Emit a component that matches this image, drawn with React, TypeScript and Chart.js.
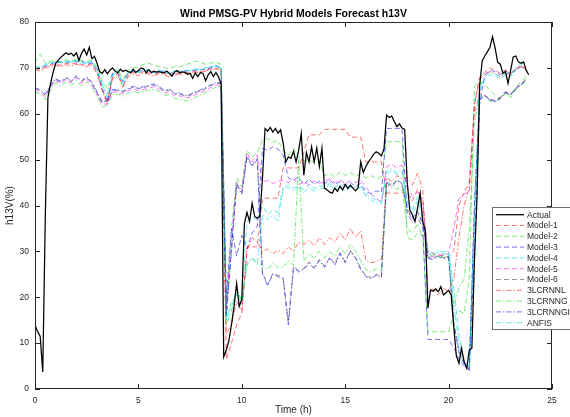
import React, { useEffect, useRef } from 'react';
import { Chart, registerables } from 'chart.js';

Chart.register(...registerables);

// Sampling intervals (hours) of the measured series and of the model forecasts
const ACTUAL_STEP_H = 0.125;
const MODEL_STEP_H = 0.25;

const X_TICKS = { min: 0, max: 25, step: 5 };
const Y_TICKS = { min: 0, max: 80, step: 10 };

const CHART_TITLE = 'Wind PMSG-PV Hybrid Models Forecast h13V';
const X_LABEL = 'Time (h)';
const Y_LABEL = 'h13V(%)';

// Measured h13V, one value every 7.5 min
const actual = [
  14, 12.5, 11.5, 3.7, 38, 63.5, 66.5, 69, 71, 71.7, 72.3, 72.8, 73.3, 72.9, 73.2, 72.6,
  73.3, 71.6, 73.2, 74.1, 72.8, 74.5, 72.0, 72.5, 71.0, 69.2, 68.8, 69.6, 68.7, 69.5, 70.0, 69.3,
  68.9, 69.7, 69.2, 69.5, 69.2, 68.9, 69.7, 69.0, 69.4, 70.0, 69.8, 68.9, 69.6, 69.0, 69.3, 69.1,
  69.2, 69.0, 68.9, 69.3, 68.8, 68.2, 69.1, 69.4, 68.9, 69.1, 69.0, 68.6, 68.8, 67.7, 68.9, 68.1,
  69.0, 68.8, 67.2, 68.5, 69.2, 68.1, 69.0, 68.0, 66.5, 7.0, 8.5, 10.5, 14.0, 18.0, 23.0, 18.0,
  19.5, 36.0, 38.5, 36.5, 40.5, 37.6, 37.2, 37.6, 46.0, 56.8, 56.2, 57.0, 56.0, 56.8, 55.8, 56.5,
  53.6, 49.5, 50.6, 50.3, 51.8, 49.5, 52.0, 55.7, 46.6, 51.5, 49.5, 52.8, 49.5, 52.5, 48.5, 52.5,
  43.8, 43.4, 42.9, 42.7, 43.8, 43.1, 44.2, 43.4, 44.6, 43.7, 44.4, 43.8, 43.2, 43.8, 49.5, 47.2,
  48.5, 49.5, 50.3, 51.2, 51.7, 51.4, 50.8, 52.3, 59.7, 59.2, 59.5, 58.3, 57.2, 57.8, 56.9, 56.6,
  45.0, 39.0, 38.0, 36.5, 39.5, 42.7, 36.5, 34.5, 17.6, 21.6, 21.3, 21.8, 21.2, 22.3, 20.5, 21.0,
  21.5, 20.5, 13.5, 7.2, 5.6, 8.9, 6.0, 4.5, 8.5, 8.9, 28.0, 42.0, 66.0, 71.5, 72.6, 73.5,
  74.5, 76.8, 74.3, 71.2, 70.8, 68.8, 69.2, 66.6, 69.5, 72.4, 72.6, 71.3, 71.0, 71.3, 69.5, 68.5,
];

// Forecasts, one value every 15 min
const model1 = [
  70.0, 69.5, 70.2, 70.6, 70.9, 70.5, 71.0, 70.8, 71.1, 70.7, 70.6, 70.9, 69.0, 65.2, 63.0, 68.0,
  68.8, 66.0, 68.5, 69.0, 68.8, 69.2, 68.9, 68.5, 69.0, 68.8, 68.3, 68.9, 68.7, 69.1, 68.9, 69.3,
  69.1, 69.5, 69.8, 70.0, 69.5,
  6.5, 10.0, 14.0, 16.5, 31.0, 31.0, 31.0,
  41.6, 41.6, 41.6, 41.6,
  48.2, 48.2, 48.2, 48.2, 51.5, 55.4, 55.4, 55.4,
  56.6, 56.6, 56.6, 56.6, 56.6, 54.9, 54.9, 54.9,
  49.5, 49.5, 49.5, 49.5,
  42.7, 42.7, 42.7, 42.7,
  43.0, 41.0, 43.5, 40.0,
  30.0, 29.5, 29.0, 29.2, 28.8,
  30.0, 40.0, 43.0, 45.0,
  62.0, 68.0, 69.0, 70.0, 69.5, 68.8, 69.6, 68.9, 69.8, 70.4, 69.8,
];

const model2 = [
  71.2, 73.0, 71.0, 71.5, 71.6, 71.3, 71.8, 71.5, 71.9, 71.6, 71.4, 71.6, 70.2, 67.0, 65.5, 69.0,
  69.8, 67.5, 69.6, 70.0, 70.2, 70.8, 71.0, 70.6, 70.3, 70.0, 69.8, 70.3, 70.2, 70.7, 71.0, 71.5,
  71.2, 70.8, 71.1, 71.2, 70.8,
  18.0, 35.0, 46.0, 44.0, 52.0, 50.5, 51.5,
  54.3, 54.6, 53.8, 54.2,
  52.0, 51.0, 52.5, 50.5, 49.7, 49.7, 49.5, 49.8,
  46.5, 47.0, 46.2, 47.3, 46.6, 47.1, 46.4, 46.9,
  46.0, 46.5, 45.8, 46.2,
  53.9, 53.9, 53.9, 53.9,
  33.0, 32.5, 34.0, 33.5,
  12.5, 12.5, 12.5, 12.5, 12.5,
  16.0, 17.0, 16.5, 24.0,
  66.0, 67.0, 66.5, 65.0, 64.0, 63.2, 64.5, 63.5, 65.8, 67.0, 68.0,
];

const model3 = [
  69.8, 70.1, 70.4, 70.8, 71.4, 71.2, 71.2, 71.4, 71.3, 71.5, 70.8, 71.1, 69.8, 65.5, 62.5, 68.8,
  69.0, 67.0, 69.1, 69.2, 69.3, 69.4, 69.5, 69.0, 69.2, 69.3, 68.8, 69.0, 69.3, 69.3, 69.4, 69.5,
  69.6, 69.7, 70.0, 70.5, 70.0,
  20.0, 35.0, 29.0, 33.5, 30.5, 34.0, 35.5,
  52.5, 52.0, 52.8, 52.3,
  51.0, 46.0, 45.5, 46.2, 44.5, 45.8, 44.6, 45.3,
  44.8, 45.5, 44.6, 45.2, 44.4, 45.0, 44.2, 44.8,
  43.0, 42.6, 43.2, 42.8,
  56.8, 56.8, 56.8, 56.8,
  38.0, 36.5, 37.5, 35.0,
  10.8, 10.8, 10.8, 10.8, 10.8,
  9.0, 6.5, 5.0, 4.5,
  30.0, 62.0, 68.5, 69.5, 69.2, 68.5, 69.3, 68.7, 69.5, 70.2, 70.0,
];

const model4 = [
  70.4, 70.0, 70.8, 71.2, 71.0, 71.3, 71.2, 71.3, 71.6, 71.0, 71.2, 71.4, 69.3, 66.5, 63.5, 68.2,
  69.4, 66.2, 68.8, 69.6, 68.9, 69.7, 69.2, 68.9, 69.6, 69.0, 68.7, 69.4, 68.9, 69.6, 69.3, 69.8,
  69.5, 70.0, 70.3, 70.4, 69.8,
  16.0, 18.0, 21.0, 19.0, 36.5, 37.5, 36.8,
  40.0, 38.0, 39.0, 38.5,
  44.0, 44.5, 43.8, 44.2, 43.5, 44.5, 43.7, 44.3,
  44.2, 44.8, 44.0, 44.6, 43.8, 44.5, 43.9, 44.4,
  42.5, 41.8, 41.2, 40.8,
  47.0, 47.5, 46.8, 47.2,
  40.0, 38.0, 41.0, 37.0,
  29.5, 29.2, 29.8, 29.4, 29.6,
  22.0, 12.0, 6.0, 5.0,
  35.0, 65.0, 67.5, 68.5, 68.2, 67.6, 68.5, 68.0, 69.5, 70.8, 71.2,
];

const model5 = [
  65.3, 64.6, 63.6, 65.8, 67.2, 66.5, 67.4, 66.7, 67.8, 66.6, 67.5, 66.3, 64.2, 62.0, 62.2, 64.7,
  64.8, 64.3, 65.0, 65.4, 65.1, 65.3, 65.6, 65.9, 65.4, 64.5, 64.8, 63.9, 63.9, 63.4, 63.6, 64.2,
  64.6, 65.1, 65.7, 66.2, 66.3,
  17.0, 33.0, 45.0, 43.5, 51.5, 49.5, 51.0,
  45.0, 45.5, 44.8, 45.3,
  45.5, 45.0, 45.8, 44.6, 45.2, 44.5, 45.4, 44.8,
  45.2, 45.8, 45.0, 45.6, 44.8, 45.4, 45.0, 45.5,
  44.0, 42.5, 41.5, 40.8,
  48.5, 49.0, 48.2, 48.8,
  44.0, 42.0, 43.0, 41.0,
  29.0, 28.8, 29.3, 29.1, 29.5,
  35.0, 41.5, 42.5, 43.0,
  60.0, 64.5, 64.0, 63.2, 62.8, 63.5, 64.8, 64.2, 65.5, 66.5, 67.5,
];

const model6 = [
  65.6, 65.0, 64.0, 66.1, 67.5, 66.9, 67.7, 67.0, 68.1, 67.0, 67.9, 66.7, 64.6, 62.4, 62.7, 65.1,
  65.1, 64.7, 65.3, 65.8, 65.5, 65.7, 66.0, 66.3, 65.8, 64.9, 65.2, 64.3, 64.3, 63.8, 64.0, 64.6,
  65.0, 65.5, 66.1, 66.6, 66.6,
  16.2, 30.5, 44.8, 42.8, 50.8, 48.8, 50.3,
  25.3, 22.8, 25.2, 24.8,
  24.3, 14.5, 26.7, 25.8, 26.3, 27.7, 26.5, 28.2,
  26.8, 28.7, 27.3, 29.7, 27.8, 30.2, 28.7, 26.3,
  24.7, 24.3, 25.0, 24.5,
  45.3, 44.3, 45.7, 44.8,
  39.3, 37.3, 38.8, 36.3,
  28.7, 28.4, 29.1, 28.6, 28.9,
  14.5, 8.4, 5.8, 4.3,
  40.5, 63.2, 64.0, 63.2, 62.8, 63.6, 64.8, 64.3, 65.6, 66.5, 67.5,
];

const lcrnnL = [
  69.6, 69.3, 70.0, 70.3, 70.5, 70.3, 70.7, 70.4, 70.8, 70.5, 70.3, 70.6, 68.8, 65.0, 62.0, 67.5,
  68.5, 65.8, 68.0, 68.7, 68.3, 68.9, 68.6, 68.2, 68.8, 68.5, 68.0, 68.7, 68.4, 68.9, 68.6, 69.1,
  68.8, 69.3, 69.6, 69.8, 69.2,
  12.0, 14.0, 19.0, 17.0, 30.0, 33.0, 32.0,
  30.0, 30.5, 29.5, 30.2,
  29.5, 31.0, 30.0, 32.0, 31.5, 32.5, 31.2, 33.0,
  31.5, 33.0, 32.0, 34.0, 32.5, 35.0, 33.0, 34.5,
  28.0, 27.5, 27.8, 28.2,
  46.0, 45.2, 46.5, 45.8,
  46.0, 44.5, 47.0, 43.5,
  21.0, 21.8, 20.5, 22.0, 21.2,
  24.0, 33.0, 40.0, 44.0,
  62.0, 67.5, 68.5, 69.2, 68.8, 68.0, 68.9, 68.4, 69.8, 70.5, 69.5,
];

const lcrnnG = [
  64.8, 64.2, 63.0, 65.2, 66.8, 66.0, 66.9, 66.1, 67.3, 66.0, 67.0, 65.8, 63.8, 61.5, 61.8, 64.2,
  64.3, 63.8, 64.5, 64.9, 64.6, 64.8, 65.1, 65.4, 64.9, 64.0, 64.2, 63.3, 63.2, 62.8, 63.0, 63.6,
  64.0, 64.6, 65.2, 65.8, 66.0,
  14.0, 17.0, 22.0, 19.0, 27.0, 28.5, 27.5,
  27.0, 26.0, 27.5, 26.5,
  26.5, 28.0, 27.0, 50.0, 28.0, 29.5, 28.5, 30.0,
  28.5, 30.0, 29.0, 31.0, 29.5, 31.5, 30.0, 28.0,
  26.0, 25.5, 26.2, 25.8,
  44.0, 44.8, 43.5, 44.2,
  35.0, 34.0, 36.0, 33.0,
  28.8, 29.2, 28.6, 29.0, 28.8,
  18.0, 22.0, 24.0, 35.0,
  58.0, 64.0, 63.5, 62.8, 62.5, 63.2, 64.5, 64.0, 65.2, 66.2, 67.2,
];

const lcrnnGI = [
  65.7, 65.2, 64.3, 66.3, 67.6, 67.1, 67.9, 67.2, 68.3, 67.2, 68.1, 66.9, 64.8, 62.6, 62.9, 65.3,
  65.2, 64.9, 65.5, 66.0, 65.6, 65.9, 66.2, 66.5, 66.0, 65.1, 65.4, 64.5, 64.5, 64.0, 64.2, 64.8,
  65.2, 65.7, 66.3, 66.8, 66.8,
  16.0, 30.0, 44.5, 42.5, 50.5, 48.5, 50.0,
  25.0, 22.5, 25.0, 24.5,
  24.0, 14.0, 26.5, 25.5, 26.0, 27.5, 26.2, 28.0,
  26.5, 28.5, 27.0, 29.5, 27.5, 30.0, 28.5, 26.0,
  24.5, 24.0, 24.8, 24.2,
  45.0, 44.0, 45.5, 44.6,
  39.0, 37.0, 38.5, 36.0,
  28.5, 28.2, 28.9, 28.4, 28.7,
  14.0, 8.0, 5.5, 4.0,
  40.0, 63.0, 63.8, 63.0, 62.6, 63.4, 64.6, 64.1, 65.4, 66.3, 67.3,
];

const anfis = [
  70.3, 70.0, 70.7, 71.1, 71.3, 71.1, 71.5, 71.2, 71.6, 71.3, 71.1, 71.4, 69.6, 66.2, 64.2, 68.6,
  69.3, 66.6, 69.0, 69.5, 69.1, 69.7, 69.4, 68.9, 69.5, 69.2, 68.7, 69.3, 69.1, 69.6, 69.3, 69.8,
  69.5, 70.0, 70.3, 70.4, 69.9,
  15.0, 19.0, 20.5, 18.5, 27.5, 28.5, 27.0,
  38.0, 37.0, 37.8, 36.5,
  43.5, 44.0, 43.2, 43.8, 42.8, 43.9, 43.1, 43.6,
  43.8, 44.4, 43.5, 44.1, 43.2, 43.9, 43.4, 44.0,
  42.0, 41.2, 40.6, 40.3,
  47.5, 48.0, 47.2, 47.8,
  41.0, 39.0, 42.0, 38.0,
  30.0, 29.7, 30.2, 29.9, 30.1,
  18.0, 10.0, 5.5, 5.0,
  38.0, 65.5, 68.0, 69.0, 68.6, 68.0, 68.9, 68.4, 70.0, 71.3, 71.0,
];

const seriesNames = [
  'Actual', 'Model-1', 'Model-2', 'Model-3', 'Model-4', 'Model-5', 'Model-6',
  '3LCRNNL', '3LCRNNG', '3LCRNNGI', 'ANFIS',
];
const seriesValues = [
  actual, model1, model2, model3, model4, model5, model6, lcrnnL, lcrnnG, lcrnnGI, anfis,
];

const DASH = [5, 3];
const DASH_DOT = [5, 2, 1.5, 2];
const seriesColors = [
  '#000000',
  'rgba(255,0,0,0.55)', 'rgba(0,220,0,0.55)', 'rgba(0,0,255,0.55)', 'rgba(0,220,220,0.6)',
  'rgba(255,0,255,0.55)', 'rgba(40,40,40,0.5)',
  'rgba(255,0,0,0.55)', 'rgba(0,220,0,0.55)', 'rgba(0,0,255,0.55)', 'rgba(0,220,220,0.6)',
];
const seriesDashes = [[], DASH, DASH, DASH, DASH, DASH, DASH, DASH_DOT, DASH_DOT, DASH_DOT, DASH_DOT];

const FONT = '"Liberation Sans", Arial, Helvetica, sans-serif';
const INK = '#262626';

const toPoints = (values: number[], step: number) =>
  values.map((v, i) => ({ x: i * step, y: v }));

// Box around the axes with inward tick marks on all four sides
const framePlugin = {
  id: 'axesFrame',
  afterDatasetsDraw(chart: any) {
    const { ctx, chartArea, scales } = chart;
    const { left, right, top, bottom } = chartArea;
    const len = 5;
    ctx.save();
    ctx.strokeStyle = INK;
    ctx.lineWidth = 1;
    ctx.strokeRect(left + 0.5, top + 0.5, right - left - 1, bottom - top - 1);
    ctx.beginPath();
    scales.x.ticks.forEach((t: any) => {
      const px = Math.round(scales.x.getPixelForValue(t.value)) + 0.5;
      ctx.moveTo(px, bottom);
      ctx.lineTo(px, bottom - len);
      ctx.moveTo(px, top);
      ctx.lineTo(px, top + len);
    });
    scales.y.ticks.forEach((t: any) => {
      const py = Math.round(scales.y.getPixelForValue(t.value)) + 0.5;
      ctx.moveTo(left, py);
      ctx.lineTo(left + len, py);
      ctx.moveTo(right, py);
      ctx.lineTo(right - len, py);
    });
    ctx.stroke();
    ctx.restore();
  },
};

// Title centred over the plotting area
const titlePlugin = {
  id: 'axesTitle',
  afterDraw(chart: any) {
    const { ctx, chartArea } = chart;
    ctx.save();
    ctx.fillStyle = '#000';
    ctx.font = `bold 10.5px ${FONT}`;
    ctx.textAlign = 'center';
    ctx.textBaseline = 'middle';
    ctx.fillText(CHART_TITLE, (chartArea.left + chartArea.right) / 2, chartArea.top - 8);
    ctx.restore();
  },
};

// Boxed legend in the lower right of the axes
const legendPlugin = {
  id: 'boxLegend',
  afterDraw(chart: any) {
    const { ctx, chartArea } = chart;
    const x0 = Math.round(chartArea.right - 60) + 0.5;
    const y0 = Math.round(chartArea.top + 185) + 0.5;
    const rowH = 10.8;
    const n = chart.data.datasets.length;
    const h = Math.round(rowH * n + 3);
    ctx.save();
    ctx.fillStyle = '#ffffff';
    ctx.fillRect(x0, y0, 90, h);
    ctx.strokeStyle = '#6e6e6e';
    ctx.lineWidth = 1;
    ctx.strokeRect(x0, y0, 90, h);
    chart.data.datasets.forEach((ds: any, i: number) => {
      const y = y0 + 7.2 + i * rowH;
      ctx.strokeStyle = ds.borderColor;
      ctx.lineWidth = ds.borderWidth;
      ctx.setLineDash(ds.borderDash || []);
      ctx.beginPath();
      ctx.moveTo(x0 + 3.5, y);
      ctx.lineTo(x0 + 31.5, y);
      ctx.stroke();
      ctx.setLineDash([]);
      ctx.fillStyle = INK;
      ctx.font = `8.5px ${FONT}`;
      ctx.textAlign = 'left';
      ctx.textBaseline = 'middle';
      ctx.fillText(ds.label, x0 + 34.5, y + 0.5);
    });
    ctx.restore();
  },
};

export default function App() {
  const canvasRef = useRef<HTMLCanvasElement | null>(null);

  useEffect(() => {
    const canvas = canvasRef.current;
    if (!canvas) return;

    const datasets = seriesNames.map((name, i) => ({
      label: name,
      data: toPoints(seriesValues[i], i === 0 ? ACTUAL_STEP_H : MODEL_STEP_H),
      borderColor: seriesColors[i],
      backgroundColor: seriesColors[i],
      borderWidth: i === 0 ? 1.25 : 1,
      borderDash: seriesDashes[i],
      pointRadius: 0,
      fill: false,
      tension: 0,
      // later series are painted over earlier ones, the measured line on top
      order: i === 0 ? 0 : seriesNames.length - i,
    }));

    const chart = new Chart(canvas, {
      type: 'line',
      data: { datasets },
      options: {
        animation: false,
        responsive: false,
        devicePixelRatio: 1,
        events: [],
        layout: { padding: { top: 22, right: 18, left: 0, bottom: 0 } },
        plugins: {
          legend: { display: false },
          tooltip: { enabled: false },
          title: { display: false },
        },
        scales: {
          x: {
            type: 'linear',
            min: X_TICKS.min,
            max: X_TICKS.max,
            grid: { display: false, drawTicks: false },
            border: { display: false },
            ticks: {
              stepSize: X_TICKS.step,
              color: INK,
              font: { family: FONT, size: 8.5 },
              padding: 7,
              maxRotation: 0,
            },
            title: {
              display: true,
              text: X_LABEL,
              color: INK,
              font: { family: FONT, size: 10 },
              padding: { top: 1, bottom: 1 },
            },
            afterFit: (scale: any) => {
              scale.height = 28;
            },
          },
          y: {
            type: 'linear',
            min: Y_TICKS.min,
            max: Y_TICKS.max,
            grid: { display: false, drawTicks: false },
            border: { display: false },
            ticks: {
              stepSize: Y_TICKS.step,
              color: INK,
              font: { family: FONT, size: 8.5 },
              padding: 6,
            },
            title: {
              display: true,
              text: Y_LABEL,
              color: INK,
              font: { family: FONT, size: 10 },
              padding: { top: 4, bottom: 0 },
            },
            afterFit: (scale: any) => {
              scale.width = 35;
            },
          },
        },
      },
      plugins: [framePlugin, titlePlugin, legendPlugin],
    });

    return () => chart.destroy();
  }, []);

  return (
    <div style={{ position: 'fixed', left: 0, top: 0, width: 570, height: 417, background: '#fff' }}>
      <canvas ref={canvasRef} width={570} height={417} style={{ display: 'block' }} />
    </div>
  );
}
